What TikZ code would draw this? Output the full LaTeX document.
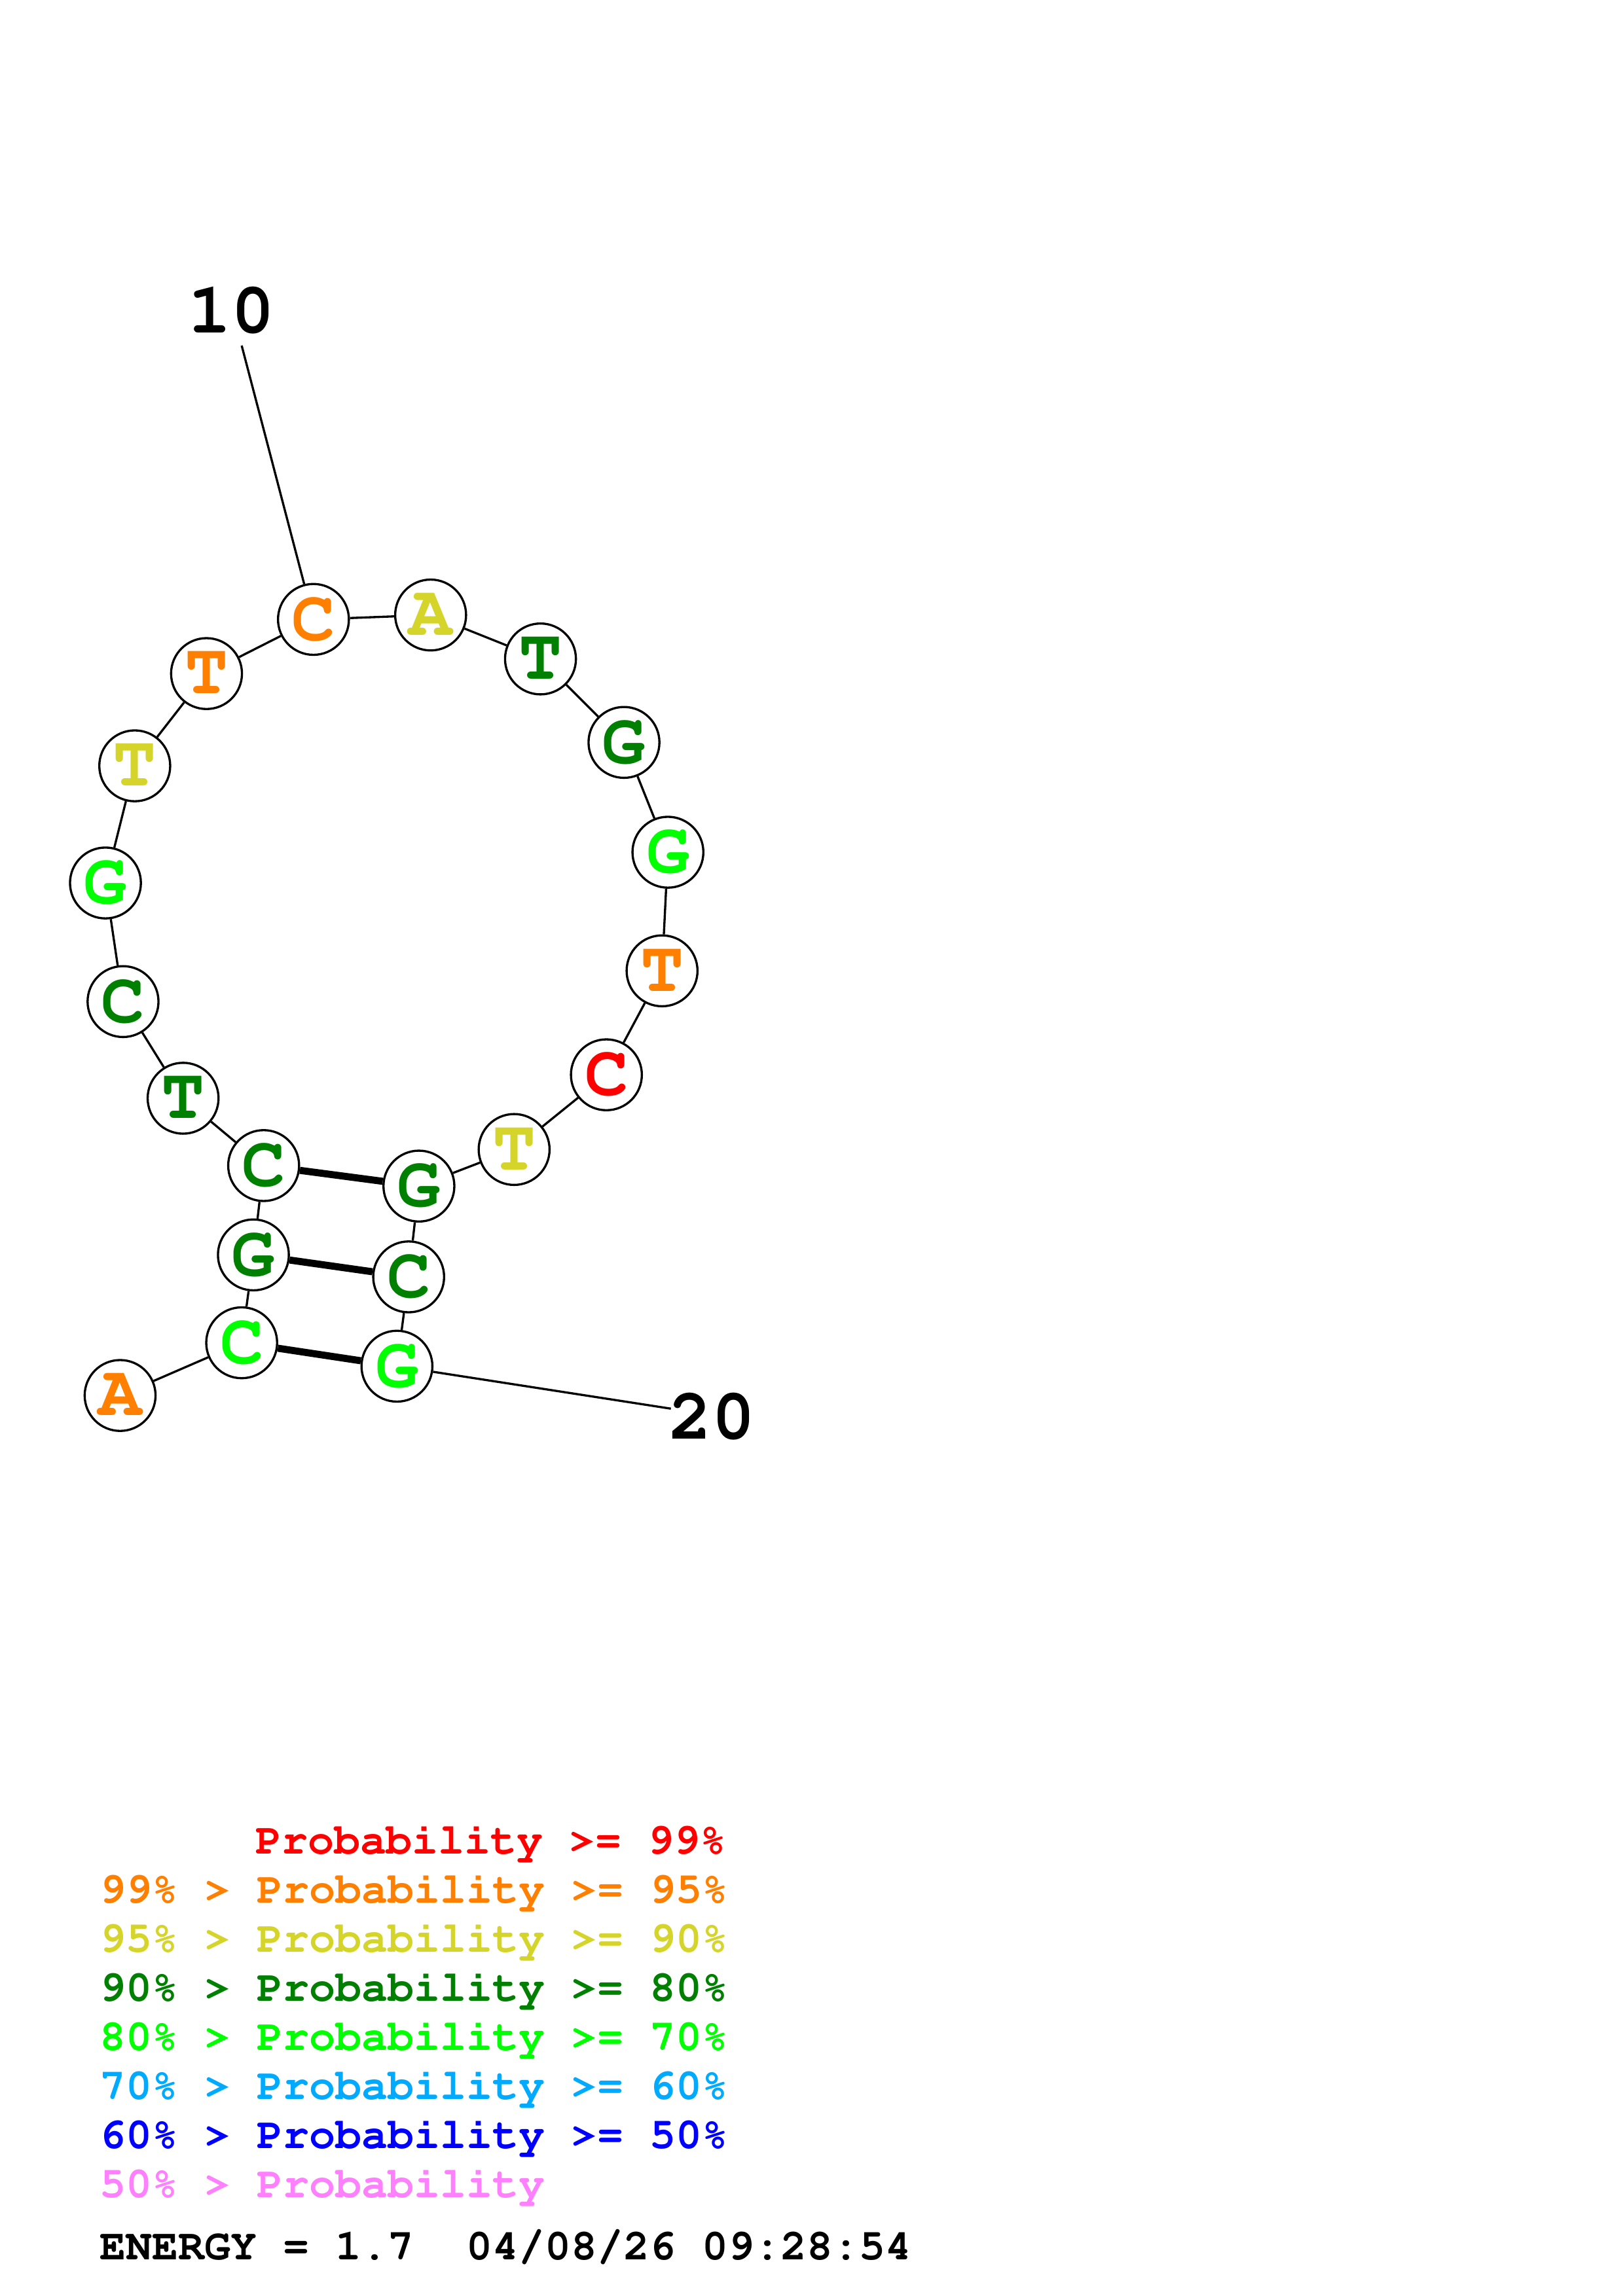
\documentclass[tikz,border=0pt]{standalone}
\usepackage[T1]{fontenc}
\newcommand{\cour}{\fontencoding{T1}\fontfamily{pcr}\fontseries{b}\selectfont}
\definecolor{pred}{RGB}{255,0,0}
\definecolor{porange}{RGB}{255,128,0}
\definecolor{pyellow}{RGB}{212,212,42}
\definecolor{pdgreen}{RGB}{0,128,0}
\definecolor{plgreen}{RGB}{0,255,0}
\definecolor{pcyan}{RGB}{0,170,255}
\definecolor{pblue}{RGB}{0,0,255}
\definecolor{ppink}{RGB}{255,128,255}
\tikzset{
  base/.style={circle,draw=black,line width=0.8pt,fill=white,minimum size=26pt,inner sep=0pt,
    font=\fontsize{26.5}{26.5}\cour},
  bb/.style={line width=0.8pt,black},
  bp/.style={line width=2.6pt,black},
  numlab/.style={font=\fontsize{26.5}{26.5}\cour},
  leg/.style={anchor=base west,inner sep=0pt,font=\fontsize{16}{16}\cour}
}
\begin{document}
\begin{tikzpicture}[x=0.53726pt,y=-0.53726pt]
\useasboundingbox (0,0) rectangle (1108,1568);
\fill[white] (0,0) rectangle (1108,1568);
\coordinate (l10) at (165,236);
\coordinate (l20) at (458,962);
\node[numlab] (t10) at (158,212) {10};
\node[numlab] (t20) at (486,967.5) {20};
\node[base,text=porange] (n1) at (82,953) {A};
\node[base,text=plgreen] (n2) at (165,917) {C};
\node[base,text=pdgreen] (n3) at (173,857) {G};
\node[base,text=pdgreen] (n4) at (180,796) {C};
\node[base,text=pdgreen] (n5) at (125,750) {T};
\node[base,text=pdgreen] (n6) at (84,684) {C};
\node[base,text=plgreen] (n7) at (72,603) {G};
\node[base,text=pyellow] (n8) at (92,523) {T};
\node[base,text=porange] (n9) at (141,460) {T};
\node[base,text=porange] (n10) at (214,423) {C};
\node[base,text=pyellow] (n11) at (294,420) {A};
\node[base,text=pdgreen] (n12) at (369,450) {T};
\node[base,text=pdgreen] (n13) at (426,507) {G};
\node[base,text=plgreen] (n14) at (456,582) {G};
\node[base,text=porange] (n15) at (452,663) {T};
\node[base,text=pred] (n16) at (414,734) {C};
\node[base,text=pyellow] (n17) at (351,785) {T};
\node[base,text=pdgreen] (n18) at (286,810) {G};
\node[base,text=pdgreen] (n19) at (279,872) {C};
\node[base,text=plgreen] (n20) at (271,933) {G};
\foreach \a/\b in {1/2,2/3,3/4,4/5,5/6,6/7,7/8,8/9,9/10,10/11,11/12,12/13,13/14,14/15,15/16,16/17,17/18,18/19,19/20}
  \draw[bb] (n\a) -- (n\b);
\draw[bp] (n4) -- (n18);
\draw[bp] (n3) -- (n19);
\draw[bp] (n2) -- (n20);
\draw[bb] (n10) -- (l10);
\draw[bb] (n20) -- (l20);
% legend
\node[leg,text=pred] (g1) at (174,1266) {Probability >= 99\%};
\node[leg,text=porange] (g2) at (68,1299.5) {99\% > Probability >= 95\%};
\node[leg,text=pyellow] (g3) at (68,1333) {95\% > Probability >= 90\%};
\node[leg,text=pdgreen] (g4) at (68,1366.5) {90\% > Probability >= 80\%};
\node[leg,text=plgreen] (g5) at (68,1400) {80\% > Probability >= 70\%};
\node[leg,text=pcyan] (g6) at (68,1433.5) {70\% > Probability >= 60\%};
\node[leg,text=pblue] (g7) at (68,1467) {60\% > Probability >= 50\%};
\node[leg,text=ppink] (g8) at (68,1500.5) {50\% > Probability};
\node[leg,text=black] (en) at (68,1543) {ENERGY = 1.7\ \ 04/08/26 09:28:54};
\end{tikzpicture}
\end{document}
